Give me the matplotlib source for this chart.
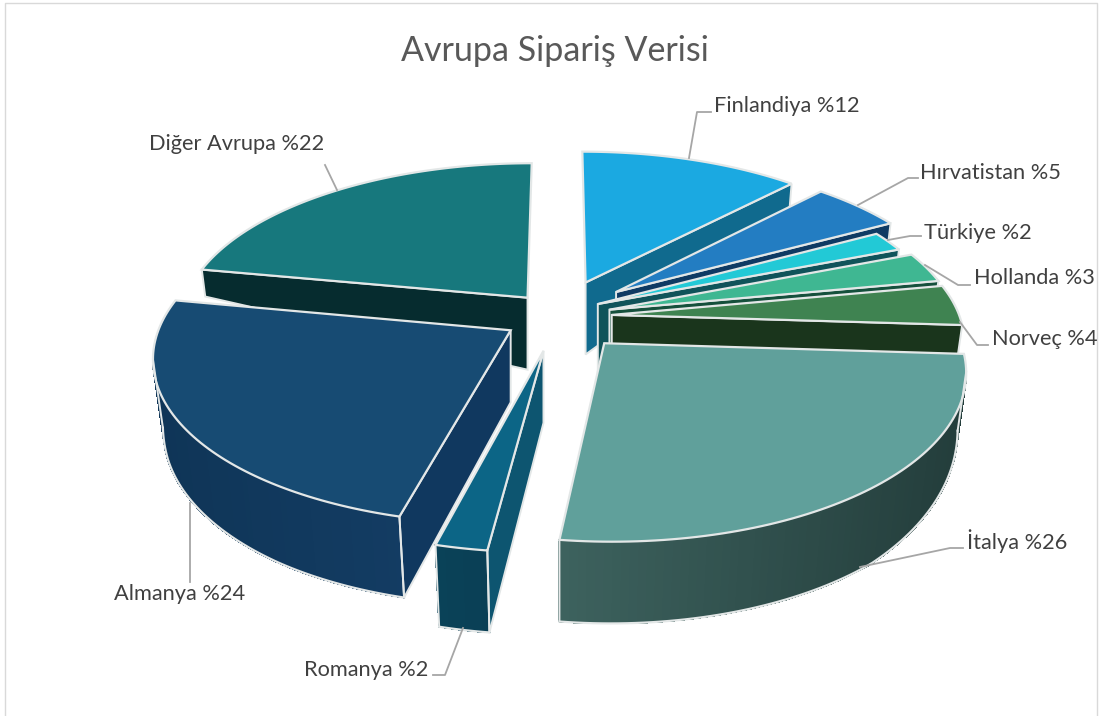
import numpy as np
import matplotlib
matplotlib.use('Agg')
import matplotlib.pyplot as plt
from matplotlib.colors import to_rgb

plt.rcParams['font.family'] = ['Lato', 'DejaVu Sans']

# data
names = ['Finlandiya', 'Hırvatistan', 'Türkiye', 'Hollanda', 'Norveç',
         'İtalya', 'Romanya', 'Almanya', 'Diğer Avrupa']
shares = [12, 5, 2, 3, 4, 26, 2, 24, 22]

# looks
top_colors = ['#1ba9e1', '#237dc2', '#22c9d6', '#3fb792', '#3f8351',
              '#60a09b', '#0c6586', '#174b73', '#17787d']
wall_colors = ['#106a8e', '#0f3a63', '#10535a', '#15503c', '#1a351c',
               '#233d3b', '#0d5570', '#10385f', '#062c2f']
rim_left = [None, None, None, None, None,
            '#3d625e', '#0a4258', '#0f3557', None]
rim_right = [None, None, None, None, None,
             '#233d3b', '#0a3f55', '#133c63', None]
# how far each slice is pulled out of the pie, sideways and back
explode_x = [0.076, 0.165, 0.11, 0.143, 0.149, 0.124, -0.046, -0.14, -0.095]
explode_y = [0.223, 0.16, 0.082, 0.046, 0.013, -0.16, -0.205, -0.082, 0.123]
# which cut face can be seen: 'end' clockwise side or 'start'
wall_side = ['end', 'end', 'end', 'end', 'end', None, 'start', 'start', 'start']
draw_order = [8, 0, 1, 2, 3, 4, 7, 6, 5]

label_pos = [(787, 106), (991, 173), (978, 233), (1034, 278), (1045, 339),
             (1017, 541), (366, 670), (180, 594), (237, 144)]
leaders = [[(689, 158), (697, 112), (711, 112)],
           [(858, 205), (908, 178), (918, 178)],
           [(888, 240), (910, 236), (921, 236)],
           [(925, 265), (958, 285), (970, 285)],
           [(960, 322), (977, 345), (988, 345)],
           [(860, 567), (950, 548), (963, 548)],
           [(463, 628), (445, 675), (433, 675)],
           [(190, 503), (190, 582)],
           [(337, 190), (325, 165)]]

cx, cy = 560, 317
rx, ry, k = 348, 160, 0.15
edge = '#e3e7e7'
apex_h = 72


def project(x, y):
    w = 1 + k * y
    return cx + rx * x / w, cy - ry * y / w


def rim_height(x, y):
    right = np.interp(y, [-1.2, -0.9, -0.4, -0.1, 0.15, 0.8],
                      [82, 80, 62, 50, 28, 24])
    left = np.interp(y, [-1.2, -0.9, -0.4, -0.1, 0.15, 0.8],
                     [82, 80, 74, 62, 28, 24])
    return np.where(x < 0, left, right)


def shrink(x, h):
    # lower edge of the slab pulls in a little towards the middle
    return cx + (x - cx) * (1 - 0.025 * h / 70)


fig, ax = plt.subplots(figsize=(11, 7.16), dpi=100)
fig.subplots_adjust(0, 0, 1, 1)
ax.set_xlim(0, 1100)
ax.set_ylim(716, 0)
ax.axis('off')

ax.plot([5, 5, 1097, 1097], [716, 3, 3, 716], color='#d9d9d9', lw=1)

bounds = np.cumsum([0] + shares) / sum(shares) * 2 * np.pi

for i in draw_order:
    a0, a1 = bounds[i], bounds[i + 1]
    ox, oy = explode_x[i], explode_y[i]
    th = np.linspace(a0, a1, 80)
    gx = ox + np.sin(th)
    gy = oy + np.cos(th)
    sx, sy = project(gx, gy)
    ax_, ay_ = project(ox, oy)
    hs = rim_height(gx, gy)
    bx = shrink(sx, hs)

    # outer rim, only between the left and right extremes of the arc
    if rim_left[i] is not None:
        idx = np.arange(np.argmax(sx), np.argmin(sx) + 1)
        c_l = np.array(to_rgb(rim_left[i]))
        c_r = np.array(to_rgb(rim_right[i]))
        x_min, x_max = sx[idx].min(), sx[idx].max()
        for a, b in zip(idx[:-1], idx[1:]):
            t = ((sx[a] + sx[b]) / 2 - x_min) / max(x_max - x_min, 1)
            col = c_l + (c_r - c_l) * t
            ax.fill([sx[a], sx[b], bx[b], bx[a]],
                    [sy[a], sy[b], sy[b] + hs[b], sy[a] + hs[a]],
                    facecolor=col, edgecolor=col, lw=0.8, antialiased=False)
        ax.plot(bx[idx], sy[idx] + hs[idx], color=edge, lw=1.6)
        for j in (idx[0], idx[-1]):
            ax.plot([sx[j], bx[j]], [sy[j], sy[j] + hs[j]], color=edge, lw=1.4)

    # cut face
    if wall_side[i] is not None:
        j = -1 if wall_side[i] == 'end' else 0
        ax.fill([ax_, sx[j], bx[j], ax_],
                [ay_, sy[j], sy[j] + hs[j], ay_ + apex_h],
                facecolor=wall_colors[i], edgecolor=edge, lw=1.4)

    # top
    ax.fill(np.r_[ax_, sx], np.r_[ay_, sy], facecolor=top_colors[i],
            edgecolor=edge, lw=1.6, joinstyle='miter')

for i in range(len(names)):
    pts = np.array(leaders[i])
    ax.plot(pts[:, 0], pts[:, 1], color='#a6a6a6', lw=1.3)
    ax.text(label_pos[i][0], label_pos[i][1], f'{names[i]} %{shares[i]}',
            ha='center', va='center', fontsize=15.7, color='#404040')

ax.text(555, 51, 'Avrupa Sipariş Verisi', ha='center', va='center',
        fontsize=24.5, color='#595959')

fig.savefig('out.png', dpi=100)
